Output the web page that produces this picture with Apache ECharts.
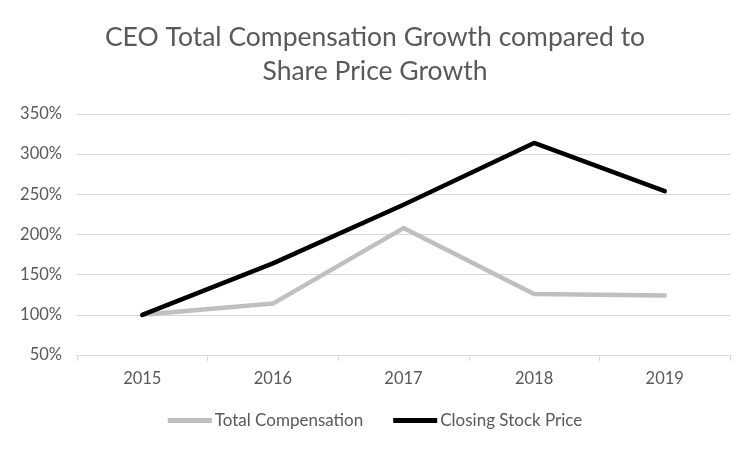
<!DOCTYPE html>
<html>
<head>
<meta charset="utf-8">
<script src="https://cdn.jsdelivr.net/npm/echarts@6/dist/echarts.min.js"></script>
<style>html,body{margin:0;padding:0;background:#fff}#c{width:750px;height:450px}</style>
</head>
<body>
<div id="c"></div>
<script>
const categories = ['2015', '2016', '2017', '2018', '2019'];
const totalCompensation = [100, 114, 208, 126, 124];
const closingStockPrice = [100, 164, 237, 314, 254];
const titleLines = ['CEO Total Compensation Growth compared to', 'Share Price Growth'];

const chart = echarts.init(document.getElementById('c'));
const font = 'Lato, "Open Sans", sans-serif';
chart.setOption({
  animation: false,
  backgroundColor: '#ffffff',
  title: {
    text: titleLines.join('\n'),
    left: 'center',
    top: 15,
    textStyle: { fontFamily: font, fontSize: 26.5, fontWeight: 'normal', color: '#595959', lineHeight: 34 }
  },
  grid: { left: 77, right: 20, top: 114, bottom: 95, containLabel: false },
  legend: {
    bottom: 16,
    left: 'center',
    itemWidth: 44,
    itemHeight: 5,
    itemGap: 30,
    icon: 'rect',
    textStyle: { fontFamily: font, fontSize: 17, color: '#595959', padding: [0, 0, 0, -2] },
    data: ['Total Compensation', 'Closing Stock Price']
  },
  xAxis: {
    type: 'category',
    data: categories,
    boundaryGap: true,
    axisLine: { lineStyle: { color: '#d9d9d9', width: 1 } },
    axisTick: { show: true, length: 6, lineStyle: { color: '#d9d9d9' } },
    axisLabel: { fontFamily: font, fontSize: 16.5, color: '#595959', margin: 15 }
  },
  yAxis: {
    type: 'value',
    min: 50,
    max: 350,
    interval: 50,
    axisLine: { show: false },
    axisTick: { show: false },
    splitLine: { lineStyle: { color: '#d9d9d9', width: 1 } },
    axisLabel: { fontFamily: font, fontSize: 16.5, color: '#595959', margin: 15, formatter: '{value}%' }
  },
  series: [
    {
      name: 'Total Compensation',
      type: 'line',
      data: totalCompensation,
      symbol: 'none',
      color: '#bfbfbf',
      lineStyle: { color: '#bfbfbf', width: 4.5, cap: 'round', join: 'round' }
    },
    {
      name: 'Closing Stock Price',
      type: 'line',
      data: closingStockPrice,
      symbol: 'none',
      color: '#000000',
      lineStyle: { color: '#000000', width: 4.5, cap: 'round', join: 'round' }
    }
  ]
});
</script>
</body>
</html>
